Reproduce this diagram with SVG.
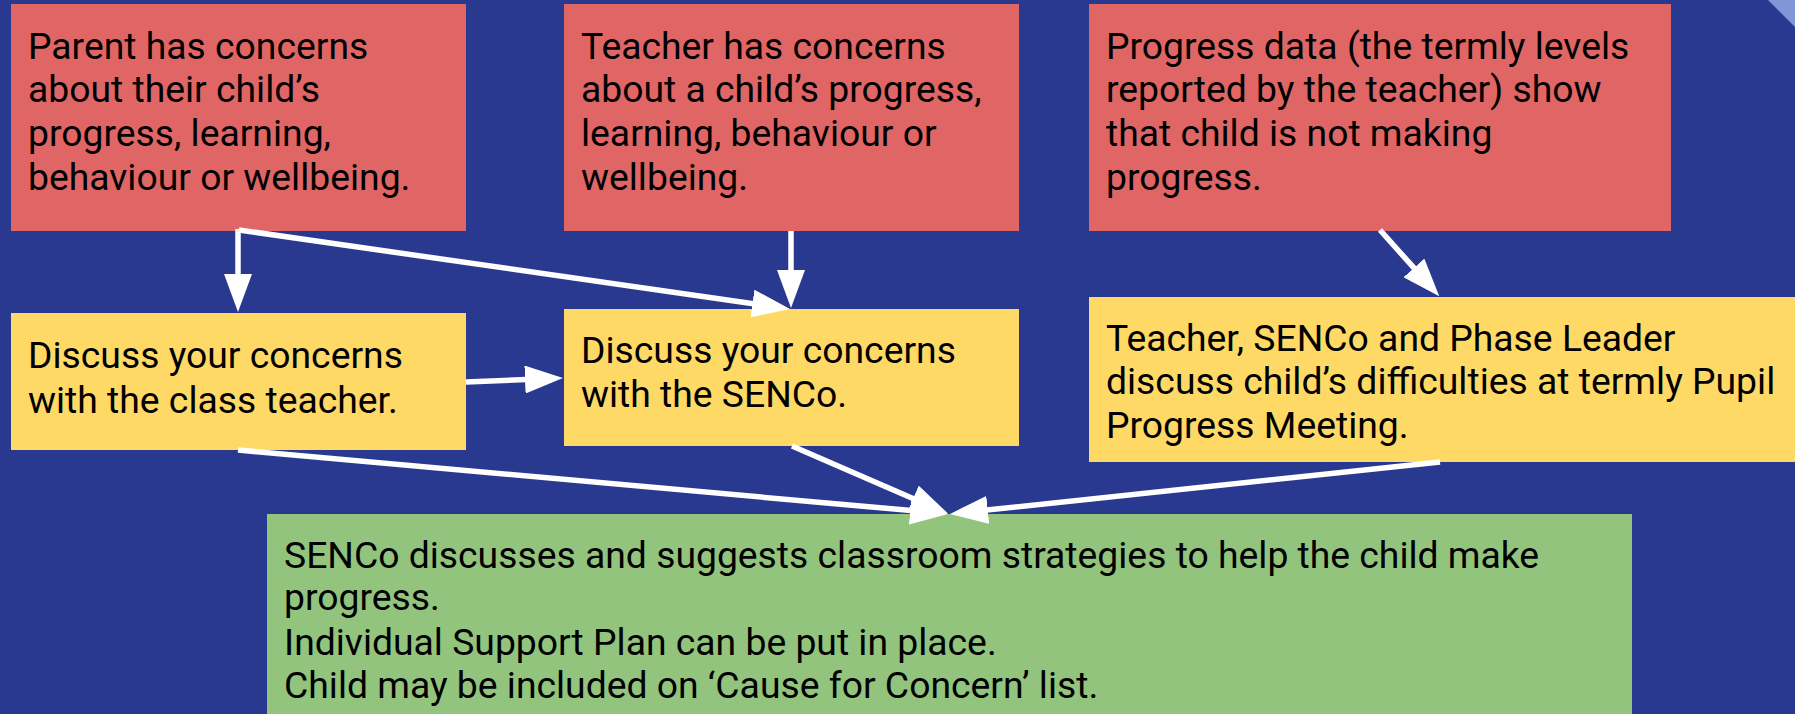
<svg xmlns="http://www.w3.org/2000/svg" width="1795" height="714" viewBox="0 0 1795 714">
  <style>
    .red { fill: #e06666; }
    .yellow { fill: #ffd966; }
    .green { fill: #93c47d; }
    text { font-family: Roboto, "Liberation Sans", sans-serif; font-size: 37.3px; fill: #000000; }
    .conn line { stroke: #ffffff; stroke-width: 5.5; fill: none; marker-end: url(#arrow); }
  </style>
  <defs>
    <marker id="arrow" viewBox="0 0 38 28" markerWidth="38" markerHeight="28" refX="1" refY="14" markerUnits="userSpaceOnUse" orient="auto">
      <path d="M0,0 L38,14 L0,28 z" fill="#ffffff"/>
    </marker>
  </defs>
  <rect x="0" y="0" width="1795" height="714" fill="#2a3990"/>
  <polygon points="1768,0 1795,0 1795,27" fill="#7f97d8"/>

  <g id="parent">
    <rect class="red" x="11" y="4" width="455" height="227"/>
    <text x="28" y="59">Parent has concerns</text>
    <text x="28" y="102">about their child’s</text>
    <text x="28" y="146">progress, learning,</text>
    <text x="28" y="190">behaviour or wellbeing.</text>
  </g>
  <g id="teacher">
    <rect class="red" x="564" y="4" width="455" height="227"/>
    <text x="581" y="59">Teacher has concerns</text>
    <text x="581" y="102">about a child’s progress,</text>
    <text x="581" y="146">learning, behaviour or</text>
    <text x="581" y="190">wellbeing.</text>
  </g>
  <g id="progress-data">
    <rect class="red" x="1089" y="4" width="582" height="227"/>
    <text x="1106" y="59">Progress data (the termly levels</text>
    <text x="1106" y="102">reported by the teacher) show</text>
    <text x="1106" y="146">that child is not making</text>
    <text x="1106" y="190">progress.</text>
  </g>
  <g id="discuss-teacher">
    <rect class="yellow" x="11" y="313" width="455" height="137"/>
    <text x="28" y="368">Discuss your concerns</text>
    <text x="28" y="413">with the class teacher.</text>
  </g>
  <g id="discuss-senco">
    <rect class="yellow" x="564" y="309" width="455" height="137"/>
    <text x="581" y="363">Discuss your concerns</text>
    <text x="581" y="407">with the SENCo.</text>
  </g>
  <g id="pupil-progress-meeting">
    <rect class="yellow" x="1089" y="297" width="706" height="165"/>
    <text x="1106" y="351">Teacher, SENCo and Phase Leader</text>
    <text x="1106" y="394">discuss child’s difficulties at termly Pupil</text>
    <text x="1106" y="438">Progress Meeting.</text>
  </g>
  <g id="senco-strategies">
    <rect class="green" x="267" y="514" width="1365" height="200"/>
    <text x="284" y="568">SENCo discusses and suggests classroom strategies to help the child make</text>
    <text x="284" y="610">progress.</text>
    <text x="284" y="655">Individual Support Plan can be put in place.</text>
    <text x="284" y="698">Child may be included on ‘Cause for Concern’ list.</text>
  </g>

  <g id="connectors" class="conn">
    <line x1="238" y1="229" x2="238" y2="275"/>
    <line x1="239" y1="230" x2="753.4" y2="303.7"/>
    <line x1="791" y1="231" x2="791" y2="271"/>
    <line x1="466" y1="382" x2="526" y2="379.5"/>
    <line x1="1380" y1="230" x2="1414.6" y2="268.7"/>
    <line x1="238" y1="450" x2="911.2" y2="510.6"/>
    <line x1="792" y1="446" x2="914.1" y2="498.9"/>
    <line x1="1440" y1="462" x2="986.8" y2="510"/>
  </g>
</svg>
